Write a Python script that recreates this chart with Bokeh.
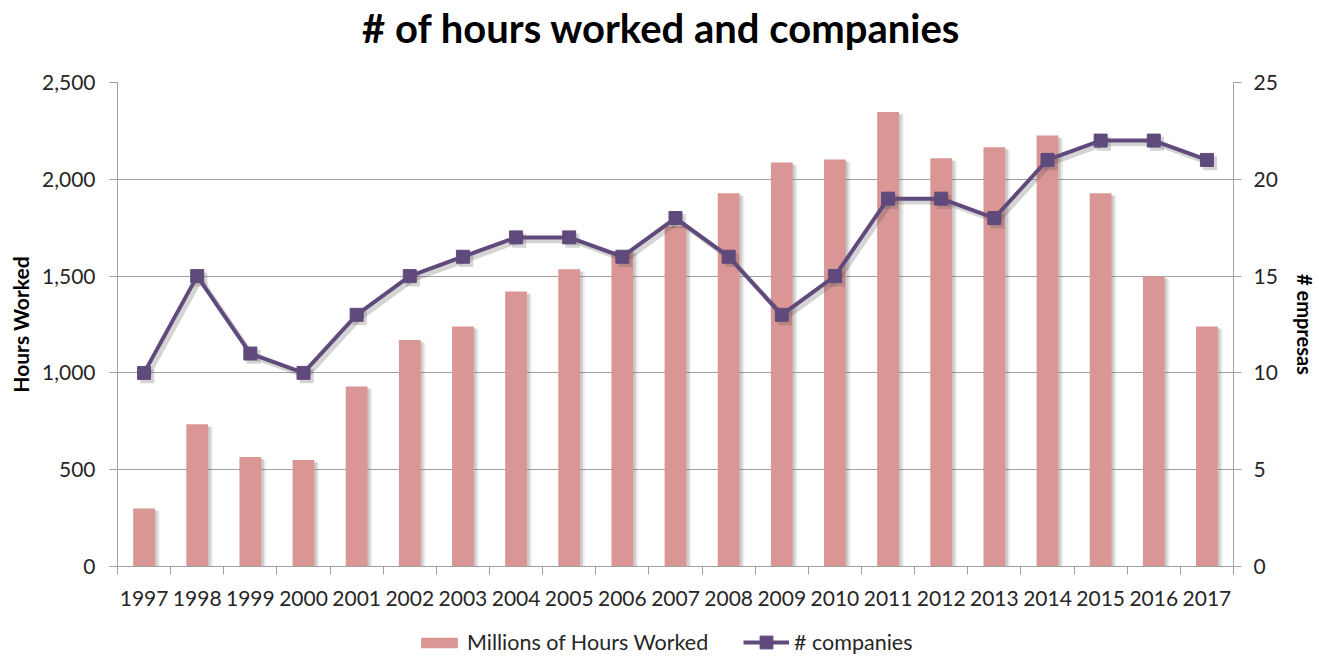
from bokeh.plotting import figure
from bokeh.layouts import column
from bokeh.models import (Range1d, LinearAxis, FixedTicker, Legend, LegendItem,
                          NumeralTickFormatter, ColumnDataSource, Label)
from bokeh.transform import dodge
from bokeh.embed import file_html
from bokeh.resources import INLINE

years = ["1997", "1998", "1999", "2000", "2001", "2002", "2003", "2004", "2005", "2006",
         "2007", "2008", "2009", "2010", "2011", "2012", "2013", "2014", "2015", "2016", "2017"]
hours = [300, 735, 565, 550, 930, 1170, 1240, 1420, 1535, 1630,
         1760, 1928, 2087, 2102, 2347, 2109, 2166, 2226, 1928, 1499, 1240]
companies = [10, 15, 11, 10, 13, 15, 16, 17, 17, 16,
             18, 16, 13, 15, 19, 19, 18, 21, 22, 22, 21]
left_ticks = [0, 500, 1000, 1500, 2000, 2500]
right_ticks = [0, 5, 10, 15, 20, 25]
title_text = "# of hours worked and companies"

FONT = "Lato"
BAR = "#D99694"
LINE = "#604A7B"
GRID = "#a0a0a0"
TXT = "#262626"
W = 1319

idx = list(range(len(years)))
src = ColumnDataSource(dict(x=idx, year=years, hours=hours, companies=companies))

# ---- title strip ----
tp = figure(width=W, height=68, x_range=Range1d(0, 1), y_range=Range1d(0, 1),
            output_backend="svg", toolbar_location=None, min_border=0,
            x_axis_location=None, y_axis_location=None)
tp.outline_line_color = None
tp.xgrid.visible = False
tp.ygrid.visible = False
tp.add_layout(Label(x=544, y=41, x_units="screen", y_units="screen", text=title_text,
                    text_align="center", text_baseline="alphabetic", text_font=FONT,
                    text_font_size="40px", text_font_style="bold", text_color="black"))

# ---- main chart ----
p = figure(width=W, height=559, x_range=Range1d(-0.5, len(years) - 0.5),
           y_range=Range1d(0, 2500), output_backend="svg", toolbar_location=None,
           min_border_left=117, min_border_right=82, min_border_top=14,
           min_border_bottom=61)
p.extra_y_ranges = {"n": Range1d(0, 25)}
p.outline_line_color = None

p.xgrid.visible = False
p.ygrid.ticker = FixedTicker(ticks=left_ticks)
p.ygrid.grid_line_color = GRID
p.ygrid.grid_line_width = 1

xa = p.xaxis[0]
xa.ticker = FixedTicker(ticks=idx, minor_ticks=[i - 0.5 for i in range(len(years) + 1)])
xa.major_label_overrides = {i: y for i, y in enumerate(years)}
xa.major_tick_out = 0
xa.major_tick_in = 0
xa.minor_tick_out = 8
xa.minor_tick_in = 0
xa.minor_tick_line_color = GRID
xa.axis_line_color = GRID
xa.major_label_standoff = 16
xa.major_label_text_font = FONT
xa.major_label_text_font_size = "21px"
xa.major_label_text_color = TXT

ya = p.yaxis[0]
ya.ticker = FixedTicker(ticks=left_ticks)
ya.formatter = NumeralTickFormatter(format="0,0")
ya.major_tick_out = 8
ya.major_tick_in = 0
ya.minor_tick_line_color = None
ya.major_tick_line_color = GRID
ya.axis_line_color = GRID
ya.major_label_standoff = 14
ya.major_label_text_font = FONT
ya.major_label_text_font_size = "21px"
ya.major_label_text_color = TXT
ya.axis_label = "Hours Worked"
ya.axis_label_text_font = FONT
ya.axis_label_text_font_size = "21px"
ya.axis_label_text_font_style = "bold"
ya.axis_label_text_color = "black"
ya.axis_label_standoff = 6

ra = LinearAxis(y_range_name="n", ticker=FixedTicker(ticks=right_ticks))
ra.major_tick_out = 8
ra.major_tick_in = 0
ra.minor_tick_line_color = None
ra.major_tick_line_color = GRID
ra.axis_line_color = GRID
ra.major_label_standoff = 12
ra.major_label_text_font = FONT
ra.major_label_text_font_size = "21px"
ra.major_label_text_color = TXT
ra.axis_label = "# empresas"
ra.axis_label_text_font = FONT
ra.axis_label_text_font_size = "20px"
ra.axis_label_text_font_style = "bold"
ra.axis_label_text_color = "black"
ra.axis_label_standoff = 12
p.add_layout(ra, "right")

# bar shadows
p.vbar(x=dodge("x", 0.09, range=p.x_range), top=dodge("hours", -14), width=0.41, bottom=0,
       source=src, fill_color="#6b6b6b", fill_alpha=0.12, line_color=None)
p.vbar(x=dodge("x", 0.05, range=p.x_range), top=dodge("hours", -10), width=0.41, bottom=0,
       source=src, fill_color="#6b6b6b", fill_alpha=0.25, line_color=None)
p.vbar(x="x", top="hours", width=0.41, bottom=0, source=src,
       fill_color=BAR, line_color=None)

# line shadow
p.line(x=dodge("x", 0.06, range=p.x_range), y=dodge("companies", -0.17), source=src,
       y_range_name="n", line_color="#555555", line_alpha=0.25, line_width=5)
p.scatter(x=dodge("x", 0.06, range=p.x_range), y=dodge("companies", -0.17), source=src,
          y_range_name="n", marker="square", size=14, fill_color="#555555",
          fill_alpha=0.25, line_color=None)
p.line(x="x", y="companies", source=src, y_range_name="n",
       line_color=LINE, line_width=4)
p.scatter(x="x", y="companies", source=src, y_range_name="n", marker="square",
          size=13, fill_color=LINE, line_color=LINE)

# ---- legend strip (proxy renderers kept just outside the visible range) ----
lp = figure(width=W, height=30, x_range=Range1d(100, 200), y_range=Range1d(3000, 3100),
            output_backend="svg", toolbar_location=None, min_border=0,
            x_axis_location=None, y_axis_location=None)
lp.extra_y_ranges = {"n": Range1d(100, 200)}
lp.outline_line_color = None
lp.xgrid.visible = False
lp.ygrid.visible = False
lbar = lp.vbar(x="x", top="hours", width=0.41, bottom=0, source=src,
               fill_color=BAR, line_color=None)
lline = lp.line(x="x", y="companies", source=src, y_range_name="n",
                line_color=LINE, line_width=4)
lmark = lp.scatter(x="x", y="companies", source=src, y_range_name="n", marker="square",
                   size=13, fill_color=LINE, line_color=LINE)
common = dict(orientation="horizontal", glyph_width=46, label_standoff=5,
              label_text_font=FONT, label_text_font_size="21.5px", label_text_color=TXT,
              border_line_color=None, background_fill_alpha=0, padding=0, margin=0)
legend1 = Legend(items=[LegendItem(label="Millions of Hours Worked", renderers=[lbar])],
                 location=(299, 2), glyph_height=13, **common)
legend2 = Legend(items=[LegendItem(label="# companies", renderers=[lline, lmark])],
                 location=(626, -1), glyph_height=32, **common)
lp.add_layout(legend1)
lp.add_layout(legend2)

layout = column(tp, p, lp, spacing=0)
open("out.html", "w").write(file_html(layout, INLINE))
